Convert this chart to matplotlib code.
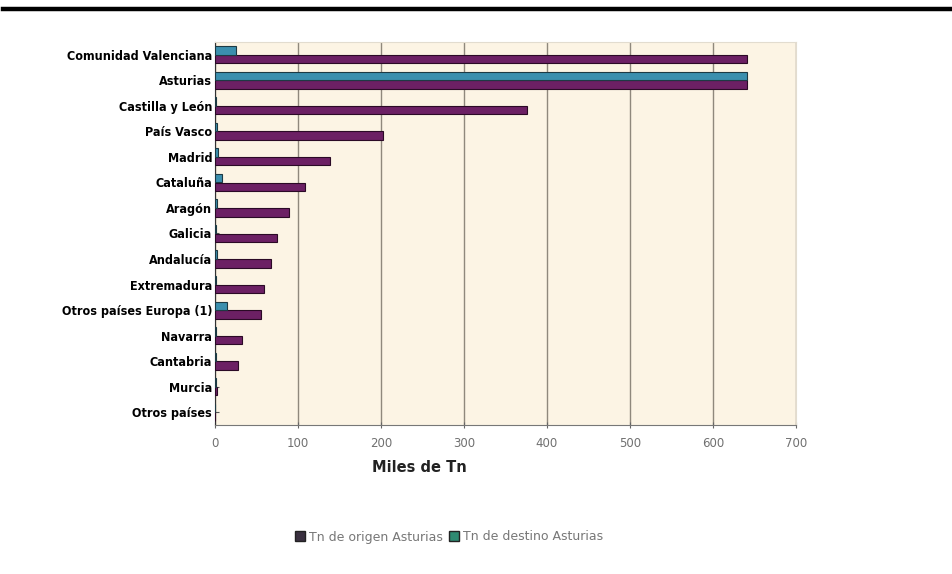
import matplotlib
matplotlib.use("Agg")
import matplotlib.pyplot as plt
from matplotlib.lines import Line2D
from matplotlib.patches import Patch
import numpy as np

categories = ["Comunidad Valenciana", "Asturias", "Castilla y León", "País Vasco",
              "Madrid", "Cataluña", "Aragón", "Galicia", "Andalucía", "Extremadura",
              "Otros países Europa (1)", "Navarra", "Cantabria", "Murcia", "Otros países"]
origen = [641, 641, 376, 202, 139, 109, 89, 75, 67, 59, 56, 32, 28, 3, 0.5]
destino = [25, 641, 1, 3, 4, 8, 3, 1, 3, 1, 15, 1, 1, 1, 0.5]
series_names = ["Tn de origen Asturias", "Tn de destino Asturias"]
xticks = [0, 100, 200, 300, 400, 500, 600, 700]

purple = "#6c2064"
teal = "#3b8fae"

fig = plt.figure(figsize=(9.53, 5.74), dpi=100)
fig.patch.set_facecolor("white")

# top rule
fig.add_artist(Line2D([3 / 953, 1.0], [1 - 9 / 574, 1 - 9 / 574], color="black", lw=3.2))

ax = fig.add_axes([215 / 953, 1 - 425 / 574, 581 / 953, 383 / 574])
ax.set_facecolor("#fcf4e4")

y = np.arange(len(categories))
h = 0.33
ax.barh(y + 0.17, origen, height=h, color=purple, edgecolor="#2b0a26", linewidth=0.8, zorder=3)
ax.barh(y - 0.17, destino, height=h, color=teal, edgecolor="#1d3a44", linewidth=0.8, zorder=3)

ax.set_xlim(0, 700)
ax.set_ylim(len(categories) - 0.5, -0.5)
ax.set_xticks(xticks)
ax.set_xticklabels([str(t) for t in xticks], fontsize=8.5, color="#707070")
ax.set_yticks(y)
ax.set_yticklabels(categories, fontsize=9, fontweight="bold", fontstretch="condensed",
                   family=["DejaVu Sans"])
ax.grid(axis="x", color="#8f887c", lw=1, zorder=1)
ax.tick_params(axis="x", direction="inout", length=5, color="#666666", pad=6)
ax.tick_params(axis="y", direction="in", length=3, color="#555555", pad=2)
for s in ["top", "right"]:
    ax.spines[s].set_color("#e2dccf")
ax.spines["left"].set_color("#333333")
ax.spines["bottom"].set_color("#777777")

fig.text(419 / 953, 1 - 467 / 574, "Miles de Tn", ha="center", va="center",
         fontsize=10.5, fontweight="bold", color="#222222")

handles = [Patch(facecolor="#3a3040", edgecolor="#222222"),
           Patch(facecolor="#2e8a72", edgecolor="#222222")]
fig.legend(handles, series_names, loc="center", bbox_to_anchor=(449 / 953, 1 - 537 / 574),
           ncol=2, frameon=False, fontsize=9, handlelength=0.8, handleheight=0.8,
           handletextpad=0.3, columnspacing=0.5, labelcolor="#777777")

fig.savefig("out.png", dpi=100)
